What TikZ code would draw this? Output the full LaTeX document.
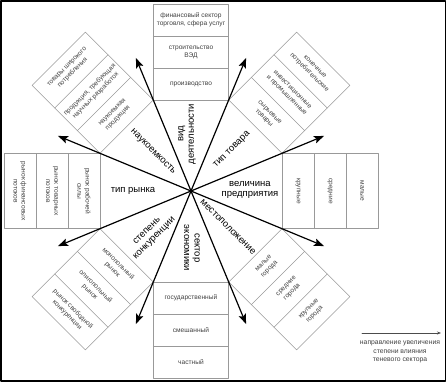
\documentclass[tikz,border=0pt]{standalone}
\usepackage{fontspec}
\setmainfont{Liberation Sans}
\usetikzlibrary{arrows.meta}

\begin{document}
\begin{tikzpicture}[
    x=1pt, y=1pt,
    line cap=round,
    line join=round,
    kletka/.style  = {draw=black!40, line width=0.6pt},
    tekst/.style   = {font=\fontsize{6.6}{8.2}\selectfont, text=black!75, align=center, inner sep=0pt},
    sektor/.style  = {font=\fontsize{9.5}{10.5}\selectfont, align=center, inner sep=0pt},
    strelka/.style = {line width=1.2pt, -{Stealth[length=10pt,width=7.5pt,inset=2pt]}},
    legenda/.style = {line width=0.6pt, draw=black!70, -{Stealth[length=4pt,width=3pt]}},
    ramka/.style   = {line width=1.8pt}
]
\useasboundingbox (-191,-193) rectangle (257,191);

% ---- ramka ----
\draw[ramka] (-190.1,190.1) rectangle (254.6,-190.1);

% ---- centr ----
\coordinate (c) at (0,0);

% ---- yachejki po vosmi napravleniyam ----
\foreach \ugol/\povorot/\pervaya/\vtoraya/\tretya in {
    90/0/{производство}/{строительство\\ВЭД}/{финансовый сектор\\торговля, сфера услуг},
    45/-45/{сырьевые\\товары}/{инвестиционные\\и промышленные}/{конечные\\потребительские},
    0/-90/{крупные}/{средние}/{малые},
    -45/45/{малые\\города}/{средние\\города}/{крупные\\города},
    -90/0/{государственный}/{смешанный}/{частный},
    -135/-45/{монопольный\\рынок}/{олигопольный\\рынок}/{рынок свободной\\конкуренции},
    180/-90/{рынок рабочей\\силы}/{рынок товарных\\потоков}/{рынок финансовых\\потоков},
    135/45/{наукоемкая\\продукция}/{продукция, требующая\\научных разработок}/{товары широкого\\потребления}}{
    \begin{scope}[rotate=\ugol-90]
        \draw[kletka] (-37.7,91) rectangle (37.7,187);
        \draw[kletka] (-37.7,123) -- (37.7,123);
        \draw[kletka] (-37.7,155) -- (37.7,155);
    \end{scope}
    \node[tekst, rotate=\povorot] (k\ugol a) at (\ugol:107) {\pervaya};
    \node[tekst, rotate=\povorot] (k\ugol b) at (\ugol:139) {\vtoraya};
    \node[tekst, rotate=\povorot] (k\ugol c) at (\ugol:171) {\tretya};
}

% ---- nazvaniya sektorov ----
\node[sektor, rotate=90]  (vid)   at (-4,57)   {вид\\деятельности};
\node[sektor, rotate=45]  (tovar) at (41,41)   {тип товара};
\node[sektor]             (velic) at (59,1)    {величина\\предприятия};
\node[sektor, rotate=-45] (mesto) at (37,-36)  {местоположение};
\node[sektor, rotate=-90] (ekon)  at (1,-57)   {сектор\\экономики};
\node[sektor, rotate=45]  (konk)  at (-40,-44) {степень\\конкуренции};
\node[sektor]             (rynok) at (-58,0)   {тип рынка};
\node[sektor, rotate=-45] (nauka) at (-38,39)  {наукоемкость};

% ---- strelki ----
\foreach \ugol [count=\n] in {22.5,67.5,...,337.5}{
    \coordinate (s\n) at (\ugol:144);
    \draw[strelka] (c) -- (s\n);
}

% ---- legenda ----
\coordinate (l1) at (171,-142);
\coordinate (l2) at (250,-142);
\draw[legenda] (l1) -- (l2);
\node[tekst, font=\fontsize{6.8}{8.5}\selectfont] (podpis) at (209,-161)
    {направление увеличения\\степени влияния\\теневого сектора};

\end{tikzpicture}
\end{document}
